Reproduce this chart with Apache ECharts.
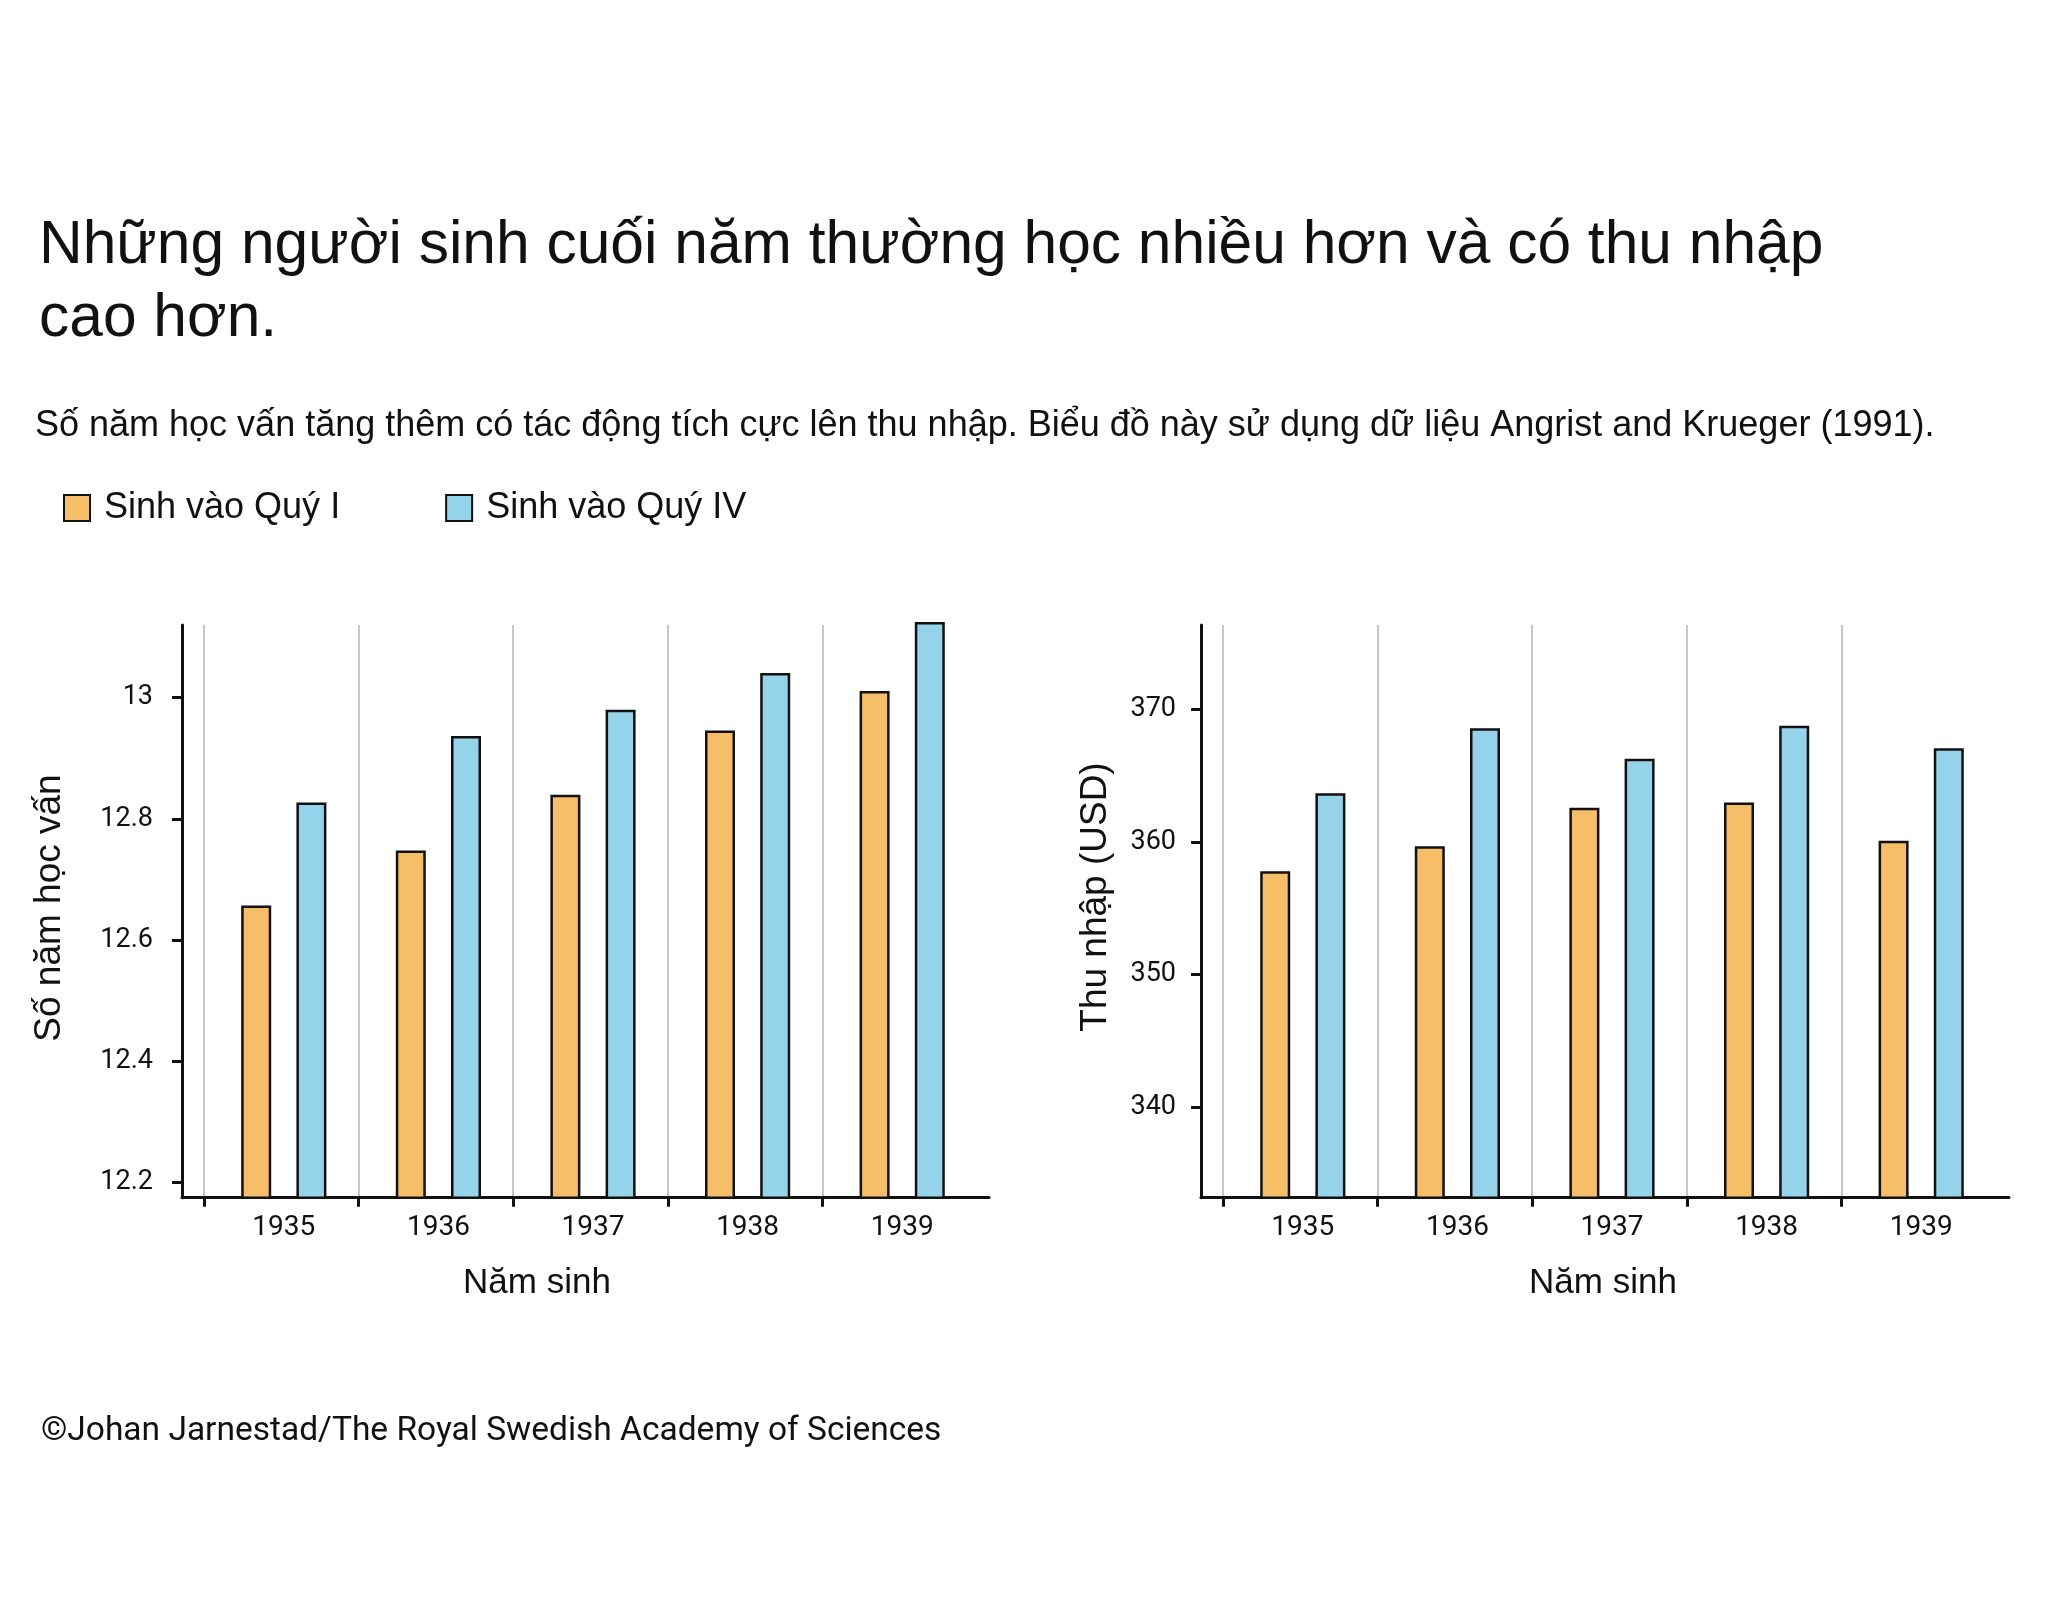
<!DOCTYPE html>
<html>
<head>
<meta charset="utf-8">
<title>Quarter of birth, schooling and earnings</title>
<script src="https://cdn.jsdelivr.net/npm/echarts@6/dist/echarts.min.js"></script>
<style>
  html, body { margin: 0; padding: 0; background: #fff; }
  #chart { width: 2048px; height: 1601px; }
</style>
</head>
<body>
<div id="chart"></div>
<script>
// --- data ------------------------------------------------------------------
const years = ["1935", "1936", "1937", "1938", "1939"];
const seriesNames = ["Sinh vào Quý I", "Sinh vào Quý IV"];

const schoolingQ1 = [12.657, 12.748, 12.84, 12.946, 13.011];
const schoolingQ4 = [12.827, 12.937, 12.98, 13.041, 13.125];
const schoolingTicks = [12.2, 12.4, 12.6, 12.8, 13];

const earningsQ1 = [357.8, 359.7, 362.6, 363.0, 360.1];
const earningsQ4 = [363.7, 368.6, 366.3, 368.8, 367.1];
const earningsTicks = [340, 350, 360, 370];

// --- look ------------------------------------------------------------------
const INK = "#111111";
const ORANGE = "#F6BE66";
const BLUE = "#95D3EB";
const RULE = "#BDCBCE";
const SANS = '"Liberation Sans", Arial, Helvetica, sans-serif';
const DIN = 'Roboto, "DejaVu Sans", sans-serif';

// shared panel geometry
const TOP = 625;       // top of the drawn axes
const BOTTOM = 1197.7; // x-axis line
const BAR_TOP = 590;   // bar grid reaches a bit higher so tall bars are not cut
const CAT_W = 154.6;
const BAR_SHIFT = 2.5; // bar pairs sit slightly right of the year band centre

const grids = [], xAxes = [], yAxes = [], series = [];

function panel(p) {
  const g = grids.length;
  const h = BOTTOM - TOP;
  // bar grid shares the same px-per-unit as the frame
  const barMax = p.min + (p.max - p.min) * (BOTTOM - BAR_TOP) / h;

  // 1. frame: black axis lines, y ticks and labels
  grids.push({ left: p.frameLeft, top: TOP, width: p.frameRight - p.frameLeft, height: h });
  xAxes.push({
    gridIndex: g, type: "value", min: 0, max: 1,
    axisLine: { show: true, onZero: false, lineStyle: { color: INK, width: 3 } },
    axisTick: { show: false }, axisLabel: { show: false }, splitLine: { show: false },
  });
  yAxes.push({
    gridIndex: g, type: "value", min: p.min, max: p.max,
    axisLine: { show: true, onZero: false, lineStyle: { color: INK, width: 3 } },
    axisTick: { show: true, length: 10, customValues: p.ticks, lineStyle: { color: INK, width: 3 } },
    axisLabel: { customValues: p.ticks, margin: p.labelMargin, color: INK, fontFamily: DIN, fontSize: 27 },
    splitLine: { show: false },
  });

  // 2. bars with centred year labels
  grids.push({ left: p.catLeft + BAR_SHIFT, top: BAR_TOP, width: CAT_W * years.length, height: BOTTOM - BAR_TOP });
  xAxes.push({
    gridIndex: g + 1, type: "category", data: years, boundaryGap: true,
    axisLine: { show: false }, axisTick: { show: false }, splitLine: { show: false },
    axisLabel: { interval: 0, margin: 16, color: INK, fontFamily: DIN, fontSize: 28 },
  });
  yAxes.push({ gridIndex: g + 1, type: "value", min: p.min, max: barMax, show: false });

  // 3. year boundaries: grey rules and the ticks under the axis
  grids.push({ left: p.catLeft, top: TOP, width: CAT_W * (years.length - 1), height: h });
  xAxes.push({
    gridIndex: g + 2, type: "category", data: years, boundaryGap: false,
    axisLine: { show: false },
    axisTick: { show: true, interval: 0, length: 9, lineStyle: { color: INK, width: 3 } },
    axisLabel: { show: false },
    splitLine: { show: true, interval: 0, lineStyle: { color: RULE, width: 2 } },
  });
  yAxes.push({ gridIndex: g + 2, type: "value", min: p.min, max: p.max, show: false });

  [[p.q1, ORANGE], [p.q4, BLUE]].forEach(([data, color], i) => {
    series.push({
      type: "bar", name: seriesNames[i], data,
      xAxisIndex: g + 1, yAxisIndex: g + 1,
      barWidth: 30, barGap: "84%",
      itemStyle: { color, borderColor: INK, borderWidth: 2.5 },
      emphasis: { disabled: true },
    });
  });
}

panel({
  frameLeft: 182, frameRight: 989, catLeft: 204,
  min: 12.175, max: 13.12, ticks: schoolingTicks, labelMargin: 29,
  q1: schoolingQ1, q4: schoolingQ4,
});
panel({
  frameLeft: 1201, frameRight: 2009, catLeft: 1223,
  min: 333.15, max: 376.4, ticks: earningsTicks, labelMargin: 25,
  q1: earningsQ1, q4: earningsQ4,
});

const nameText = (text, x, y, rotation) => ({
  type: "text", x, y, rotation, silent: true,
  style: {
    text, fill: INK, fontFamily: SANS, fontSize: rotation ? 37 : 35,
    align: "center", verticalAlign: "middle", textAlign: "center", textVerticalAlign: "middle",
  },
});

const chart = echarts.init(document.getElementById("chart"), null, { renderer: "canvas" });
chart.setOption({
  backgroundColor: "#ffffff",
  animation: false,
  title: [
    {
      text: "Những người sinh cuối năm thường học nhiều hơn và có thu nhập\ncao hơn.",
      left: 39, top: 210, padding: 0,
      textStyle: { color: INK, fontFamily: SANS, fontSize: 60.5, fontWeight: "normal", lineHeight: 73 },
    },
    {
      text: "Số năm học vấn tăng thêm có tác động tích cực lên thu nhập. Biểu đồ này sử dụng dữ liệu Angrist and Krueger (1991).",
      left: 35, top: 408, padding: 0,
      textStyle: { color: INK, fontFamily: SANS, fontSize: 36, fontWeight: "normal", lineHeight: 36 },
    },
    {
      text: "©Johan Jarnestad/The Royal Swedish Academy of Sciences",
      left: 41, top: 1415, padding: 0,
      textStyle: { color: INK, fontFamily: DIN, fontSize: 33.5, fontWeight: "normal", lineHeight: 33.5 },
    },
  ],
  legend: {
    data: seriesNames, left: 63, top: 490, padding: 0,
    icon: "rect", itemWidth: 26, itemHeight: 26, itemGap: 105,
    selectedMode: false,
    textStyle: { color: INK, fontFamily: SANS, fontSize: 36, padding: [0, 0, 0, 9] },
  },
  grid: grids,
  xAxis: xAxes,
  yAxis: yAxes,
  series,
  graphic: [
    nameText("Số năm học vấn", 50, 908, Math.PI / 2),
    nameText("Thu nhập (USD)", 1096, 897, Math.PI / 2),
    nameText("Năm sinh", 537, 1283, 0),
    nameText("Năm sinh", 1603, 1283, 0),
  ],
});
</script>
</body>
</html>
